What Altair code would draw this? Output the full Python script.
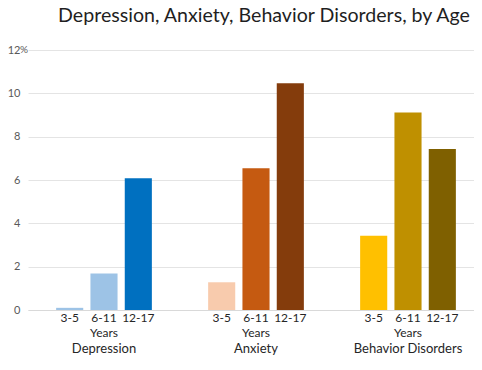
import altair as alt
import pandas as pd

groups = ["Depression", "Anxiety", "Behavior Disorders"]
ages = ["3-5", "6-11", "12-17"]
depression = [0.1, 1.68, 6.08]
anxiety = [1.28, 6.54, 10.46]
behavior = [3.43, 9.12, 7.43]
colors = ["#9DC3E6", "#9DC3E6", "#0070C0",
          "#F8CBAD", "#C55A11", "#843C0C",
          "#FFC000", "#BF9000", "#7F6000"]

rows = []
for g, vals in zip(groups, [depression, anxiety, behavior]):
    for a, v in zip(ages, vals):
        rows.append({"group": g, "age": a, "value": v, "key": g + " " + a})
df = pd.DataFrame(rows)
keys = list(df["key"])

FONT = "Lato"

x = alt.X("group:N", sort=groups, title=None,
          scale=alt.Scale(paddingInner=0, paddingOuter=0, range=[0, 456]),
          axis=alt.Axis(labelFontSize=13, labelColor="#262626", labelFont=FONT,
                        labelPadding=32, ticks=False, domain=True,
                        domainColor="#D9D9D9", labelAngle=0))
xo = alt.XOffset("age:N", sort=ages,
                 scale=alt.Scale(paddingInner=0.21, paddingOuter=0.82))

bars = alt.Chart(df).mark_bar().encode(
    x=x,
    xOffset=xo,
    y=alt.Y("value:Q", title=None,
            scale=alt.Scale(domain=[0, 12], nice=False),
            axis=alt.Axis(values=[0, 2, 4, 6, 8, 10, 12], labelFontSize=11,
                          labelColor="#595959", labelFont=FONT, ticks=False,
                          domain=False, gridColor="#E4E4E4", labelPadding=8)),
    color=alt.Color("key:N", scale=alt.Scale(domain=keys, range=colors), legend=None),
)

pct = alt.Chart(pd.DataFrame({"t": ["%"]})).mark_text(
    align="left", baseline="middle", fontSize=10, font=FONT, color="#595959", dx=-8
).encode(x=alt.value(0), y=alt.datum(12), text="t:N")

age_text = alt.Chart(df).mark_text(baseline="top", dy=3, fontSize=12,
                                   font=FONT, color="#262626").encode(
    x=alt.X("group:N", sort=groups),
    xOffset=alt.XOffset("age:N", sort=ages),
    y=alt.datum(0),
    text="age:N",
)

years_df = pd.DataFrame({"group": groups, "t": ["Years"] * 3})
years_text = alt.Chart(years_df).mark_text(baseline="top", dy=18, fontSize=12,
                                           font=FONT, color="#262626").encode(
    x=alt.X("group:N", sort=groups),
    y=alt.datum(0),
    text="t:N",
)

chart = alt.layer(bars, pct, age_text, years_text).properties(
    width=444, height=260,
    padding={"left": 20, "top": 42, "right": 2, "bottom": 47},
    autosize=alt.AutoSizeParams(type="none"),
    title=alt.TitleParams("Depression, Anxiety, Behavior Disorders, by Age",
                          fontSize=19.6, font=FONT, fontWeight="normal",
                          color="#1F1F1F", anchor="middle", dx=14, offset=17),
).configure_view(stroke=None)

chart.save("out.html", embed_options={"renderer": "svg", "actions": False})
